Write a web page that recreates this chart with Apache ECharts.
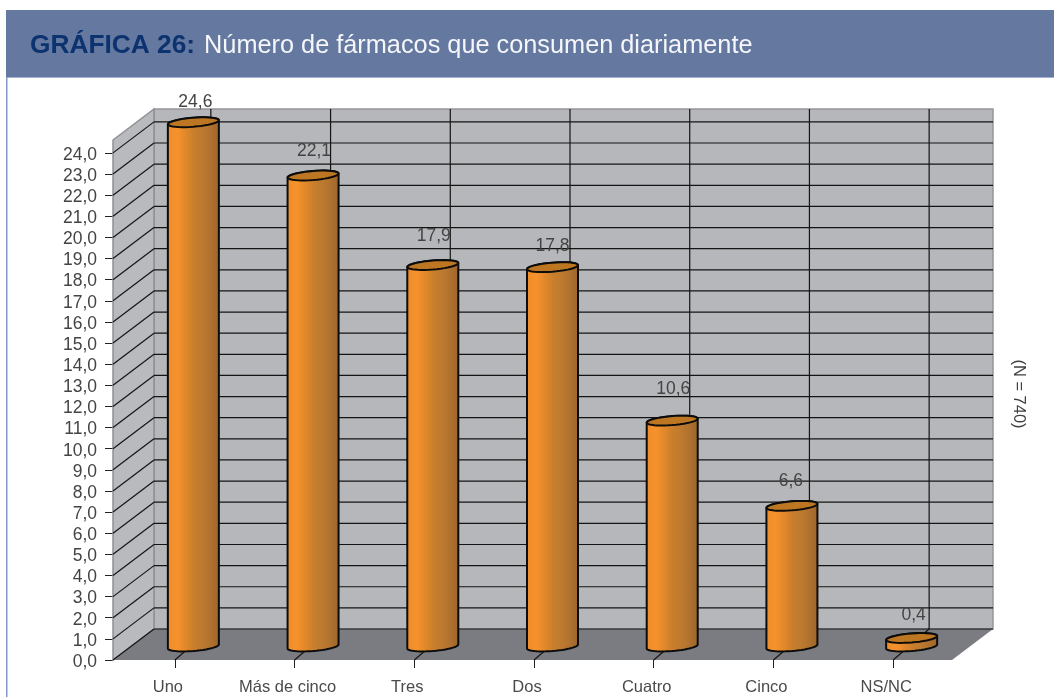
<!DOCTYPE html>
<html><head><meta charset="utf-8">
<style>html,body{margin:0;padding:0;background:#fff}#c{width:1054px;height:697px}</style>
<script src="https://cdn.jsdelivr.net/npm/echarts@6/dist/echarts.min.js"></script>
</head><body><div id="c"></div>
<script>
const categories = ['Uno','Más de cinco','Tres','Dos','Cuatro','Cinco','NS/NC'];
const values = [24.6,22.1,17.9,17.8,10.6,6.6,0.4];
const gridTicks = [0,1,2,3,4,5,6,7,8,9,10,11,12,13,14,15,16,17,18,19,20,21,22,23,24];
const labelLift = [20,24.5,29,21,31,25,23];
const labelShift = [2,1,1,0,1,-1,2];
const AXIS_MAX = 24.61, BAR_AXIS_MAX = 24.4;
const FONT = '"Liberation Sans", Arial, sans-serif';
const L = 115, W = 838, T = 140, H = 520;
const DX = 41, DY = 31, WALL_L = 113;
const BAR_DX = 18.5, BAR_DY = 13.5, RX = 25.5, RY = 4.5, TILT = 2;
const comma = v => v.toFixed(1).replace('.', ',');
const ell = (cx,cy,t) => [cx + RX*Math.cos(t), cy + RY*Math.sin(t) - TILT*Math.cos(t)];
const arc = (cx,cy,a,b,n=24) => Array.from({length:n+1},(_,i)=>ell(cx,cy,a+(b-a)*i/n));
const line = (x1,y1,x2,y2,stroke='#141414',lineWidth=1.2) => ({type:'line',shape:{x1,y1,x2,y2},style:{stroke,lineWidth}});

function renderScene(params, api){
  const yOf = v => api.coord([0,v])[1];
  const y0 = yOf(0), yTop = yOf(AXIS_MAX), R = WALL_L + W + 1;
  const kids = [];
  kids.push({type:'polygon',shape:{points:[[WALL_L+DX,yTop-DY],[R+DX,yTop-DY],[R+DX,y0-DY],[WALL_L+DX,y0-DY]]},style:{fill:'#b6b7ba',stroke:'#96979b',lineWidth:1.5}});
  kids.push({type:'polygon',shape:{points:[[WALL_L,yTop],[WALL_L+DX,yTop-DY],[WALL_L+DX,y0-DY],[WALL_L,y0]]},style:{fill:'#b9babd',stroke:'#8f9095',lineWidth:1.5}});
  kids.push({type:'polygon',shape:{points:[[WALL_L,y0],[WALL_L+DX,y0-DY],[R+DX,y0-DY],[R,y0]]},style:{fill:'#7b7c81'}});
  gridTicks.forEach(v=>{
    const y = yOf(v);
    if(v>0) kids.push(line(WALL_L+DX,y-DY,R+DX,y-DY));
    kids.push(line(WALL_L,y,WALL_L+DX,y-DY));
  });
  kids.push(line(WALL_L+DX,y0-DY,R+DX,y0-DY));
  categories.forEach((c,i)=>{
    const x = api.coord([i,0])[0];
    kids.push(line(x+36,yTop-DY,x+36,y0-DY));
    kids.push(line(x,y0,x+36,y0-DY));
  });
  return {type:'group',children:kids};
}

function renderBar(params, api){
  const i = api.value(0), v = api.value(1);
  const base = api.coord([i,0]), top = api.coord([i,v]);
  const cx = base[0]+BAR_DX, by = base[1]-BAR_DY, ty = top[1]-BAR_DY;
  const body = arc(cx,by,0,Math.PI).concat(arc(cx,ty,Math.PI,2*Math.PI));
  const bodyFill = new echarts.graphic.LinearGradient(0,0,1,0,[
    {offset:0,color:'#ee8c28'},{offset:.2,color:'#f5922c'},{offset:.36,color:'#e0882a'},
    {offset:.52,color:'#c87e2c'},{offset:.68,color:'#bc7a30'},{offset:.82,color:'#b0722e'},{offset:1,color:'#9a652c'}]);
  return {type:'group',children:[
    {type:'polygon',shape:{points:body},style:{fill:bodyFill,stroke:'#0c0c0c',lineWidth:2}},
    {type:'polygon',shape:{points:arc(cx,ty,0,2*Math.PI,40)},style:{fill:'#bd7722',stroke:'#0c0c0c',lineWidth:2}},
    {type:'text',style:{text:comma(v),x:cx+labelShift[i],y:ty-labelLift[i],textAlign:'center',textVerticalAlign:'middle',
      font:'17.5px '+FONT,fill:'#444'}}
  ]};
}

const chart = echarts.init(document.getElementById('c'),null,{renderer:'canvas'});
chart.setOption({
  animation:false,
  backgroundColor:'#fff',
  title:{left:25,top:28,text:'{a|GRÁFICA 26:} {b|Número de fármacos que consumen diariamente}',
    textStyle:{fontWeight:'normal',rich:{
      a:{fontFamily:FONT,fontWeight:'bold',fontSize:26.3,color:'#0c3270',padding:[0,4,0,0]},
      b:{fontFamily:FONT,fontWeight:'normal',fontSize:25.3,color:'#f4f6fa'}}}},
  graphic:[
    {type:'rect',z:-1,shape:{x:6,y:10,width:1048,height:67},style:{fill:'#6478a0'}},
    {type:'rect',z:-1,shape:{x:6,y:77,width:1048,height:1},style:{fill:'#a3b1d0'}},
    {type:'rect',z:-1,shape:{x:6,y:77,width:1.5,height:620},style:{fill:'#8496c8'}},
    {type:'text',x:1019,y:394,rotation:-Math.PI/2,style:{text:'(N = 740)',textAlign:'center',textVerticalAlign:'middle',font:'16.5px '+FONT,fill:'#404040'}}
  ],
  grid:{left:L,top:T,width:W,height:H,containLabel:false},
  xAxis:{type:'category',data:categories,boundaryGap:true,
    axisLine:{show:false},
    axisTick:{show:true,alignWithLabel:true,length:8,lineStyle:{color:'#222'}},
    axisLabel:{interval:0,margin:19,fontFamily:FONT,fontSize:16.5,color:'#4a4a4a',padding:[0,14,0,0]},
    splitLine:{show:false}},
  yAxis:[
    {type:'value',min:0,max:AXIS_MAX,interval:1,offset:2,
     axisLine:{show:false},axisTick:{show:true,length:8,lineStyle:{color:'#222'}},
     axisLabel:{margin:16,showMaxLabel:false,
       formatter:v=>'{n|'+comma(v)+'}',
       rich:{n:{fontFamily:FONT,fontSize:17.5,color:'#444',padding:[4,0,0,0]}}},
     splitLine:{show:false}},
    {type:'value',min:0,max:BAR_AXIS_MAX,show:false,splitLine:{show:false}}
  ],
  series:[
    {type:'custom',z:1,silent:true,renderItem:renderScene,data:[[0,0]],encode:{x:0,y:1},clip:false},
    {type:'custom',z:2,yAxisIndex:1,renderItem:renderBar,data:values.map((v,i)=>[i,v]),encode:{x:0,y:1},clip:false}
  ]
});
</script></body></html>
